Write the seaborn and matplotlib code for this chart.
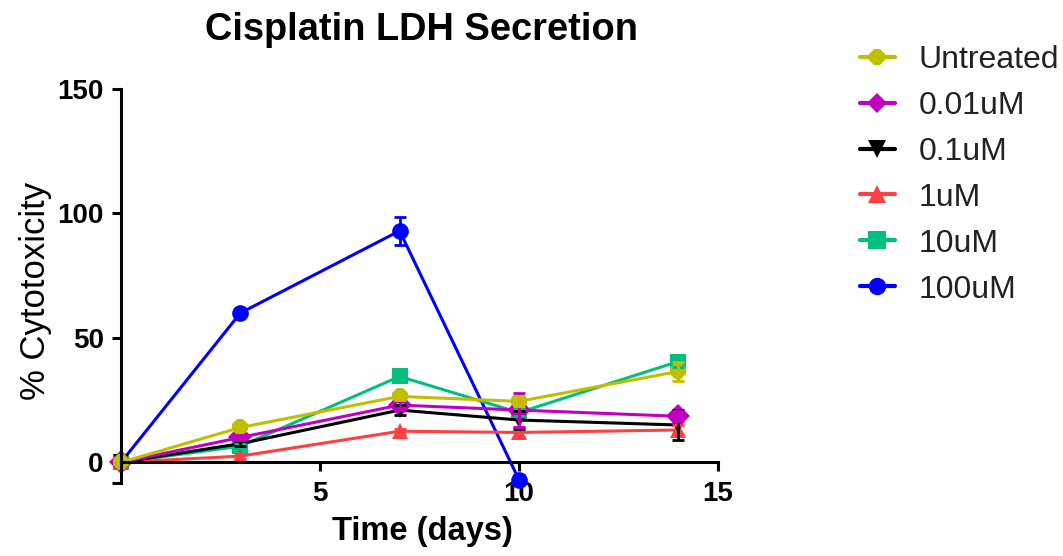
import numpy as np
import pandas as pd
import matplotlib
matplotlib.use("Agg")
import matplotlib.pyplot as plt
import seaborn as sns

# Values
days = [0, 3, 7, 10, 14]
treatments = ["Untreated", "0.01uM", "0.1uM", "1uM", "10uM", "100uM"]
untreated = [0, 14, 26.5, 24.5, 36.5]
untreated_err = [0, 1.5, 1.5, 2, 4]
um_001 = [0, 10, 23, 21, 18.5]
um_001_err = [0, 1, 1.5, 7, 2]
um_01 = [0, 7.5, 21, 17, 15]
um_01_err = [0, 1, 2, 3.5, 6]
um_1 = [0, 2.5, 12.5, 12, 13]
um_1_err = [0, 1, 1, 2, 2]
um_10 = [0, 6.5, 34.5, 20, 40.5]
um_10_err = [0, 1, 2, 1.5, 2]
um_100 = [0, 60, 93, -7]
um_100_err = [0, 1, 5.5, 2]

colors = ["#BFBF00", "#C000C0", "#000000", "#FF4040", "#00C080", "#0000FF"]
markers = ["8", "D", "v", "^", "s", "o"]

values = [untreated, um_001, um_01, um_1, um_10, um_100]
errors = [untreated_err, um_001_err, um_01_err, um_1_err, um_10_err, um_100_err]

rows = []
for name, vals, errs in zip(treatments, values, errors):
    for d, v, e in zip(days, vals, errs):
        rows.append({"day": d, "value": v, "err": e, "treatment": name})
df = pd.DataFrame(rows)

sns.set_style("ticks")
plt.rcParams["font.family"] = ["Liberation Sans", "DejaVu Sans"]
plt.rcParams["text.color"] = "black"
plt.rcParams["axes.labelcolor"] = "black"
plt.rcParams["xtick.color"] = "black"
plt.rcParams["ytick.color"] = "black"

fig = plt.figure(figsize=(10.63, 5.56), dpi=100)
ax = fig.add_axes([121 / 1063, 1 - 483 / 556, (718 - 121) / 1063, (483 - 89) / 556])

palette = dict(zip(treatments, colors))
marker_map = dict(zip(treatments, markers))

# draw in reverse so Untreated ends up on top
order = treatments[::-1]
sns.lineplot(
    data=df, x="day", y="value", hue="treatment", style="treatment",
    hue_order=order, style_order=order, palette=palette, markers=marker_map,
    dashes=False, linewidth=2.2, markersize=12, markeredgewidth=0,
    errorbar=None, ax=ax,
)

for name in order:
    sub = df[df["treatment"] == name]
    ax.errorbar(sub["day"], sub["value"], yerr=sub["err"], fmt="none",
                ecolor=palette[name], elinewidth=2, capsize=4.5, capthick=2,
                clip_on=False)

for ln in ax.lines:
    ln.set_clip_on(False)

ymin = -8.3
ax.set_xlim(0, 15)
ax.set_ylim(ymin, 150)
ax.set_xticks([5, 10, 15])
ax.set_yticks([0, 50, 100, 150])
ax.set_yticks([ymin], minor=True)
ax.spines["bottom"].set_position(("data", 0))
sns.despine(ax=ax)
for sp in ["left", "bottom"]:
    ax.spines[sp].set_linewidth(2.2)
    ax.spines[sp].set_color("black")
ax.tick_params(axis="both", which="both", width=2.2, length=6.5, pad=6,
               labelsize=20, color="black", labelcolor="black")
ax.tick_params(axis="x", pad=7)
for lab in ax.get_xticklabels() + ax.get_yticklabels():
    lab.set_fontweight("bold")

ax.set_xlabel("Time (days)", fontsize=23.5, fontweight="bold")
ax.xaxis.set_label_coords(0.505, -0.085)
ax.set_ylabel("% Cytotoxicity", fontsize=25)
ax.yaxis.set_label_coords(-0.115, 0.487)

fig.text(421 / 1063, 1 - 30 / 556, "Cisplatin LDH Secretion", fontsize=27.4,
         fontweight="bold", ha="center", va="center")

handles, labels = ax.get_legend_handles_labels()
lookup = dict(zip(labels, handles))
ax.get_legend().remove()
leg_handles = [lookup[t] for t in treatments]
for t, h in zip(treatments, leg_handles):
    h.set_markersize(10 if t == "0.01uM" else 12.5)
    h.set_linewidth(3)
fig.legend(leg_handles, treatments, loc="upper left",
           bbox_to_anchor=(831 / 1063, 1 - 16 / 556), frameon=False,
           fontsize=23, handlelength=1.1, handletextpad=0.75, labelspacing=0.5,
           labelcolor="#222222")

fig.savefig("out.png", dpi=100)
